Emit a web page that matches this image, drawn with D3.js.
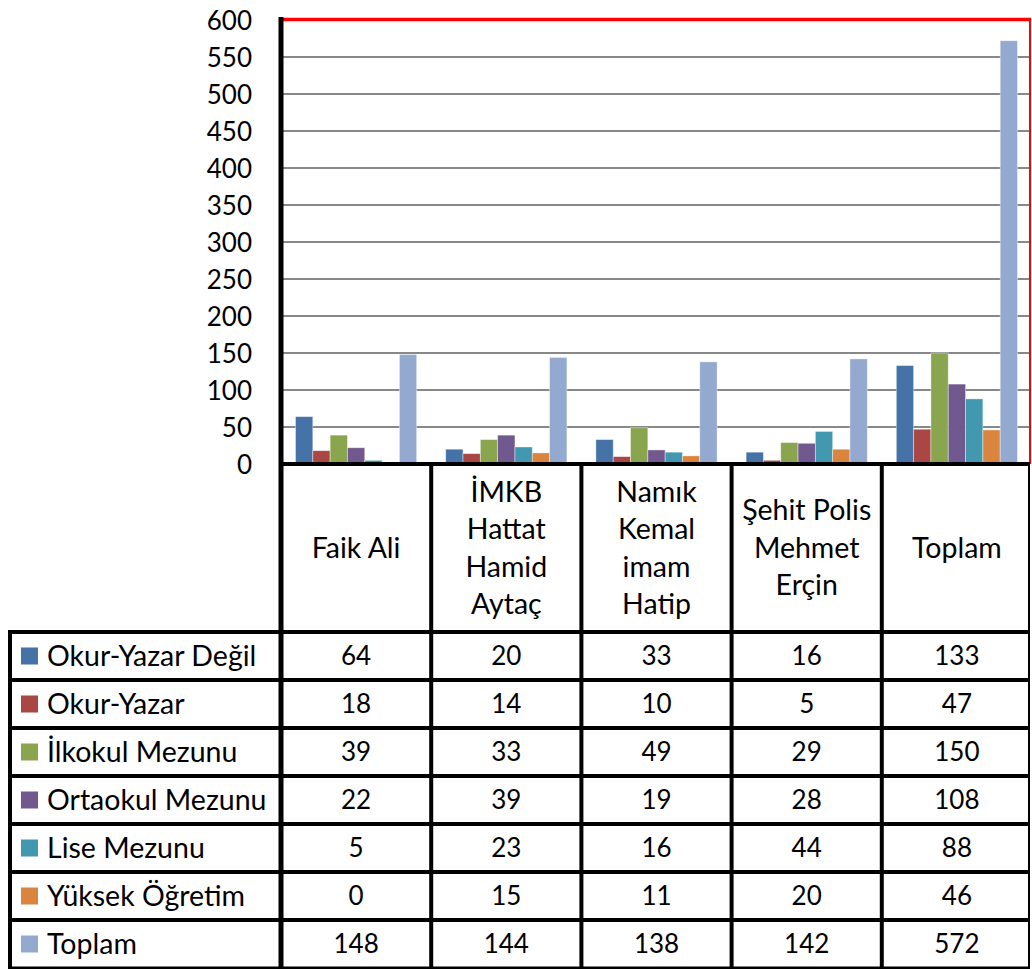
<!DOCTYPE html>
<html>
<head>
<meta charset="utf-8">
<script src="https://cdn.jsdelivr.net/npm/d3@7"></script>
<style>
  html, body { margin: 0; padding: 0; background: #fff; }
  svg { display: block; }
  text { font-family: Lato, "Open Sans", sans-serif; fill: #000; }
</style>
</head>
<body>
<svg id="chart" width="1032" height="969"></svg>
<script>
// ---- data ----
const categories = ["Faik Ali", "İMKB Hattat Hamid Aytaç", "Namık Kemal imam Hatip", "Şehit Polis Mehmet Erçin", "Toplam"];
const categoryLines = [["Faik Ali"], ["İMKB", "Hattat", "Hamid", "Aytaç"], ["Namık", "Kemal", "imam", "Hatip"], ["Şehit Polis", "Mehmet", "Erçin"], ["Toplam"]];
const seriesNames = ["Okur-Yazar Değil", "Okur-Yazar", "İlkokul Mezunu", "Ortaokul Mezunu", "Lise Mezunu", "Yüksek Öğretim", "Toplam"];
const okurYazarDegil = [64, 20, 33, 16, 133];
const okurYazar = [18, 14, 10, 5, 47];
const ilkokul = [39, 33, 49, 29, 150];
const ortaokul = [22, 39, 19, 28, 108];
const lise = [5, 23, 16, 44, 88];
const yuksek = [0, 15, 11, 20, 46];
const toplam = [148, 144, 138, 142, 572];
const seriesValues = [okurYazarDegil, okurYazar, ilkokul, ortaokul, lise, yuksek, toplam];
const colors = ["#4572A7", "#AA4643", "#89A54E", "#71588F", "#4198AF", "#DB843D", "#93A9CF"];
const yTicks = [0, 50, 100, 150, 200, 250, 300, 350, 400, 450, 500, 550, 600];

// ---- layout ----
const svg = d3.select("#chart");
const plotLeft = 281, plotRight = 1030, plotTop = 20, plotBottom = 464;
const tableLeft = 10, headerBottom = 632, rowH = 48, tableBottom = headerBottom + rowH * seriesNames.length;
const numSize = "26px", wordSize = "28.5px";

const x0 = d3.scaleBand().domain(categories).range([plotLeft, 1032]).padding(0);
const x1 = d3.scaleBand().domain(seriesNames).range([14.5, x0.bandwidth() - 14.5]).padding(0);
const y = d3.scaleLinear().domain([0, 600]).range([plotBottom, plotTop]);

// gridlines
svg.append("g").selectAll("line").data(yTicks.filter(d => d > 0 && d < 600)).join("line")
  .attr("x1", plotLeft).attr("x2", plotRight)
  .attr("y1", d => y(d)).attr("y2", d => y(d))
  .attr("stroke", "#888888").attr("stroke-width", 2);

// y axis labels
const yAxis = d3.axisLeft(y).tickValues(yTicks).tickSize(0).tickPadding(0);
const ga = svg.append("g").attr("transform", `translate(252,0)`).call(yAxis);
ga.select(".domain").remove();
ga.selectAll("text").style("font-size", numSize).attr("font-family", "Lato, 'Open Sans', sans-serif").attr("dy", "0.36em").attr("fill", "#000");

// bars
const groups = svg.append("g").selectAll("g").data(categories).join("g")
  .attr("transform", d => `translate(${x0(d)},0)`);
groups.selectAll("rect").data((c, ci) => seriesNames.map((s, si) => ({ s, si, v: seriesValues[si][ci] }))).join("rect")
  .attr("x", d => x1(d.s)).attr("width", x1.bandwidth())
  .attr("y", d => y(d.v)).attr("height", d => plotBottom - y(d.v))
  .attr("fill", d => colors[d.si])
  .attr("stroke", "rgba(255,255,255,0.5)").attr("stroke-width", 0.8);

// plot border: red top and right
svg.append("line").attr("x1", plotLeft).attr("x2", plotRight + 1).attr("y1", plotTop - 0.5).attr("y2", plotTop - 0.5).attr("stroke", "#ff0000").attr("stroke-width", 3.5);
svg.append("line").attr("x1", plotRight).attr("x2", plotRight).attr("y1", plotTop - 2).attr("y2", plotBottom).attr("stroke", "#ff0000").attr("stroke-width", 2);

// ---- table ----
const colEdges = categories.map(c => x0(c)).concat([1029]);
const T = svg.append("g");
const black = "#000";
T.append("line").attr("x1", plotLeft).attr("x2", 1030).attr("y1", plotBottom).attr("y2", plotBottom).attr("stroke", black).attr("stroke-width", 4);
for (let r = 0; r <= seriesNames.length; r++) {
  const yy = headerBottom + r * rowH;
  T.append("line").attr("x1", tableLeft - 2).attr("x2", 1030).attr("y1", yy).attr("y2", yy)
    .attr("stroke", black).attr("stroke-width", r === seriesNames.length ? 3 : 4);
}
colEdges.forEach((xx, i) => {
  T.append("line").attr("x1", xx).attr("x2", xx)
    .attr("y1", i === 0 ? plotTop - 3 : plotBottom).attr("y2", tableBottom + 1)
    .attr("stroke", black).attr("stroke-width", i === 0 ? 5 : (i === colEdges.length - 1 ? 2 : 4));
});
T.append("line").attr("x1", tableLeft).attr("x2", tableLeft).attr("y1", headerBottom - 2).attr("y2", tableBottom + 1).attr("stroke", black).attr("stroke-width", 4);

// header text
categories.forEach((c, ci) => {
  const lines = categoryLines[ci];
  const cx = x0(c) + x0.bandwidth() / 2;
  const cy = (plotBottom + headerBottom) / 2;
  const lh = 37.5;
  lines.forEach((ln, li) => {
    T.append("text").attr("x", cx).attr("y", cy + (li - (lines.length - 1) / 2) * lh)
      .attr("dy", "0.35em").attr("text-anchor", "middle").style("font-size", wordSize).text(ln);
  });
});

// rows
seriesNames.forEach((s, si) => {
  const cy = headerBottom + si * rowH + rowH / 2;
  T.append("rect").attr("x", 21).attr("y", cy - 8.5).attr("width", 17).attr("height", 17).attr("fill", colors[si]);
  T.append("text").attr("x", 47).attr("y", cy).attr("dy", "0.35em").style("font-size", wordSize).text(s);
  categories.forEach((c, ci) => {
    T.append("text").attr("x", x0(c) + x0.bandwidth() / 2).attr("y", cy).attr("dy", "0.36em")
      .attr("text-anchor", "middle").style("font-size", numSize).text(seriesValues[si][ci]);
  });
});
</script>
</body>
</html>
